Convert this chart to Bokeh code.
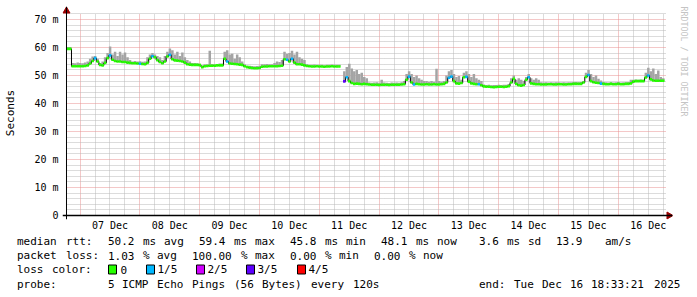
import re
import math
from datetime import datetime, timedelta
from bokeh.plotting import figure
from bokeh.models import Range1d, FixedTicker, Title, ColumnDataSource, Span
from bokeh.embed import file_html
from bokeh.resources import INLINE
from bokeh.core.properties import value

# ---------------- data ----------------
start_time = datetime(2025, 12, 6, 18, 33, 21)
end_time = datetime(2025, 12, 16, 18, 33, 21)
first_midnight = datetime(2025, 12, 7)

day_labels = ["07 Dec", "08 Dec", "09 Dec", "10 Dec", "11 Dec",
              "12 Dec", "13 Dec", "14 Dec", "15 Dec", "16 Dec"]
y_ticks = [0, 10, 20, 30, 40, 50, 60, 70]
y_tick_labels = ["0", "10 m", "20 m", "30 m", "40 m", "50 m", "60 m", "70 m"]

# hourly median rtt (ms); None = no data
median_ms = [
    59.5, 59.5, 53.3, 53.3, 53.3, 53.3, 53.3, 53.4, 53.6, 54.3, 55.2, 56.2,
    55.0, 53.8, 53.6, 54.5, 56.2, 57.2, 55.6, 55.2, 55.0, 55.0, 54.8, 54.8,
    54.6, 54.5, 54.4, 54.4, 54.3, 54.2, 54.1, 54.0, 54.5, 56.0, 56.9, 56.5,
    55.5, 54.8, 54.4, 55.0, 56.8, 57.4, 55.8, 55.4, 55.3, 55.2, 55.0, 54.6,
    54.0, 53.9, 53.8, 53.8, 53.8, 53.7, 53.0, 53.3, 53.4, 53.5, 53.5, 53.5,
    53.6, 53.6, 53.6, 56.0, 55.0, 54.3, 54.2, 54.1, 54.0, 53.9, 53.8, 53.3,
    53.0, 52.8, 52.7, 52.6, 52.6, 52.7, 53.1, 53.2, 53.2, 53.3, 53.3, 53.3,
    53.3, 53.4, 53.5, 55.8, 55.6, 55.0, 56.0, 54.6, 54.0, 54.0, 53.9, 53.6,
    53.4, 53.3, 53.2, 53.2, 53.3, 53.2, 53.2, 53.1, 53.2, 53.2, 53.3, 53.2,
    53.2, 53.2, None, 47.9, 49.4, 48.0, 47.3, 47.0, 47.1, 47.0, 46.9, 47.0,
    46.9, 46.8, 46.7, 46.7, 46.7, 46.6, 46.7, 46.7, 46.7, 46.6, 46.7, 46.7,
    46.7, 46.7, 46.8, 46.9, 48.5, 49.6, 47.5, 46.8, 47.0, 46.9, 46.8, 46.8,
    46.9, 46.8, 46.8, 46.9, 46.8, 46.8, 46.9, 47.0, 47.5, 49.2, 49.6, 48.0,
    47.2, 47.1, 47.3, 49.4, 49.5, 47.8, 47.2, 47.0, 46.9, 46.9, 46.5, 46.1,
    46.0, 46.0, 45.9, 45.8, 45.9, 46.0, 46.0, 45.9, 46.0, 46.2, 47.5, 48.8,
    47.0, 46.5, 46.4, 46.6, 48.5, 49.4, 47.2, 47.0, 46.9, 46.9, 46.8, 46.8,
    46.8, 46.9, 46.9, 46.8, 46.8, 46.9, 46.9, 46.8, 46.8, 46.9, 46.9, 47.0,
    47.0, 47.0, 47.0, 47.5, 49.5, 50.2, 48.0, 47.6, 47.4, 47.3, 47.1, 47.0,
    46.9, 46.9, 47.0, 46.9, 46.9, 47.0, 46.9, 46.9, 47.0, 47.0, 47.2, 47.8,
    48.0, 48.0, 48.0, 48.0, 49.3, 50.0, 48.6, 48.2, 48.1, 48.1, 48.1, 48.1,
]

# hourly top of the "smoke" (slowest ping, ms)
smoke_max_ms = [
    60.2, 60.2, 54.5, 54.4, 54.6, 54.5, 54.4, 54.6, 55.0, 56.0, 56.8, 57.0,
    56.0, 54.5, 55.0, 56.5, 58.0, 60.4, 57.5, 58.5, 57.0, 58.5, 57.5, 58.2,
    56.5, 55.5, 55.0, 55.2, 55.0, 55.1, 54.9, 55.0, 56.5, 57.5, 58.0, 57.5,
    57.0, 56.5, 55.5, 57.0, 58.5, 59.6, 59.0, 57.5, 58.5, 57.0, 58.2, 56.5,
    55.5, 55.0, 54.5, 54.5, 54.4, 54.2, 53.6, 54.0, 54.0, 58.8, 54.1, 54.0,
    54.0, 54.3, 54.3, 58.5, 59.0, 57.5, 57.8, 56.0, 57.5, 56.5, 55.0, 54.0,
    53.5, 53.5, 53.4, 53.3, 53.4, 53.5, 54.0, 54.0, 54.1, 54.0, 54.0, 54.5,
    55.0, 54.8, 55.5, 58.5, 57.8, 58.0, 58.8, 57.5, 58.5, 56.5, 56.0, 55.5,
    54.0, 53.8, 53.8, 53.9, 53.8, 53.8, 53.8, 53.7, 53.8, 53.8, 53.9, 53.8,
    53.8, 53.8, None, 51.5, 53.0, 54.2, 52.5, 51.5, 52.0, 50.5, 51.0, 49.5,
    49.0, 47.5, 47.4, 47.5, 47.6, 47.4, 48.5, 47.5, 47.4, 47.3, 47.5, 47.4,
    47.5, 47.4, 47.6, 48.0, 50.5, 51.5, 50.5, 49.5, 50.0, 49.0, 48.5, 48.0,
    48.0, 47.8, 48.0, 47.8, 52.4, 48.0, 47.8, 48.0, 50.0, 51.5, 52.0, 50.5,
    49.5, 49.8, 48.5, 51.0, 51.5, 50.5, 49.5, 50.5, 49.0, 48.5, 48.0, 46.8,
    46.6, 46.7, 46.5, 46.6, 46.6, 46.7, 46.6, 46.7, 46.7, 47.0, 49.0, 50.0,
    48.5, 49.0, 48.5, 48.0, 49.5, 50.5, 49.0, 48.5, 49.0, 48.5, 47.6, 47.5,
    47.6, 47.5, 47.6, 47.5, 47.6, 47.6, 47.5, 47.6, 47.5, 47.6, 47.6, 47.7,
    47.7, 47.6, 47.7, 48.0, 51.0, 52.0, 50.5, 49.5, 50.0, 48.8, 48.2, 47.7,
    47.6, 47.5, 47.6, 47.5, 47.6, 47.7, 47.5, 47.6, 47.6, 47.7, 48.5, 48.5,
    48.6, 48.5, 48.6, 48.5, 51.0, 52.8, 51.5, 52.5, 50.5, 51.8, 49.5, 49.0,
]

# hourly lost pings (out of 5)
loss_of5 = [
    0, 0, 0, 0, 0, 0, 0, 0, 0, 0, 0, 1,
    0, 0, 0, 0, 0, 1, 0, 0, 0, 0, 0, 0,
    0, 0, 0, 0, 0, 1, 0, 0, 0, 0, 1, 0,
    0, 0, 0, 0, 0, 1, 0, 0, 0, 0, 0, 0,
    0, 0, 0, 0, 0, 0, 0, 0, 0, 0, 0, 0,
    0, 0, 0, 0, 1, 0, 0, 0, 0, 0, 0, 0,
    0, 0, 0, 0, 0, 0, 0, 0, 0, 0, 0, 0,
    0, 0, 0, 0, 1, 0, 1, 0, 0, 0, 0, 0,
    0, 0, 0, 0, 0, 0, 0, 0, 0, 0, 0, 0,
    0, 0, 0, 3, 1, 0, 0, 0, 0, 0, 0, 0,
    0, 0, 0, 0, 0, 0, 0, 0, 0, 0, 0, 0,
    0, 0, 0, 0, 0, 1, 0, 1, 0, 0, 0, 0,
    0, 0, 0, 0, 0, 0, 0, 0, 0, 1, 1, 0,
    0, 0, 0, 0, 1, 0, 0, 0, 0, 1, 0, 0,
    0, 0, 0, 0, 0, 0, 0, 0, 0, 0, 0, 0,
    0, 0, 0, 0, 0, 1, 0, 0, 0, 0, 0, 0,
    0, 0, 0, 0, 0, 0, 0, 0, 0, 0, 0, 0,
    0, 0, 0, 0, 0, 1, 0, 0, 0, 0, 1, 0,
    0, 0, 0, 0, 0, 0, 0, 0, 0, 0, 0, 0,
    0, 0, 0, 0, 0, 1, 0, 0, 0, 0, 0, 0,
]

loss_colors = ["#26ff00", "#00b8ff", "#d000ff", "#5e00ff", "#ff0000"]
loss_labels = ["0", "1/5", "2/5", "3/5", "4/5"]

legend_line1 = "median rtt:  50.2 ms avg  59.4 ms max  45.8 ms min  48.1 ms now   3.6 ms sd  13.9   am/s"
legend_line2 = "packet loss: 1.03 % avg  100.00 % max  0.00 % min  0.00 % now"
legend_line3 = "loss color:"
legend_line4 = "probe:       5 ICMP Echo Pings (56 Bytes) every 120s"
legend_end = "end: Tue Dec 16 18:33:21 2025"
watermark = "RRDTOOL / TOBI OETIKER"

assert len(median_ms) == 240 and len(smoke_max_ms) == 240 and len(loss_of5) == 240

# ---------------- layout constants ----------------
W = 697
MAIN_H = 234            # graph part
LEG_H = 63              # text legend part below it
ORIGIN_X, ORIGIN_Y = 66, 215    # canvas position of (start, 0 ms)
FL, FR, FT = 62, 23, 6          # frame edges (frame reaches 4 px past the origin)
FB = MAIN_H - (ORIGIN_Y + 4)
PX_PER_H = 2.5
PX_PER_MS = 2.8
MONO = "DejaVu Sans Mono"

NAN = float("nan")
hours = [float(i) for i in range(len(median_ms))]
med = [NAN if v is None else v for v in median_ms]
hi = [NAN if v is None else v for v in smoke_max_ms]
seg_colors = [loss_colors[k] for k in loss_of5]

def h_of(dt):
    return round((dt - start_time).total_seconds() / 3600.0, 4)

total_h = h_of(end_time)
midnights = [h_of(first_midnight + timedelta(days=k)) for k in range(len(day_labels))]
noons = [h_of(first_midnight + timedelta(days=k, hours=12)) for k in range(len(day_labels))]
six_hourly = [h_of(first_midnight + timedelta(hours=6 * k)) for k in range(-1, 40)]
six_hourly = [v for v in six_hourly if 0 <= v <= total_h and v not in midnights]

def cx(X):   # canvas x -> hours
    return (X - ORIGIN_X) / PX_PER_H

def cy(Y):   # canvas y -> ms
    return (ORIGIN_Y - Y) / PX_PER_MS

p = figure(width=W, height=MAIN_H,
           x_range=Range1d(cx(FL), cx(W - FR)), y_range=Range1d(cy(MAIN_H - FB), cy(FT)),
           output_backend="svg", toolbar_location=None, title=None,
           min_border_left=FL, min_border_right=FR, min_border_top=FT, min_border_bottom=FB)
p.outline_line_color = None
p.background_fill_color = "white"
p.border_fill_color = "white"

# grids
MAJOR_GRID = "#e89090"
MINOR_GRID = "#b8b8b8"
p.xgrid.ticker = FixedTicker(ticks=midnights, minor_ticks=six_hourly)
p.ygrid.ticker = FixedTicker(ticks=y_ticks,
                             minor_ticks=[v for v in range(0, 73, 2) if v % 10])
for g in (p.xgrid[0], p.ygrid[0]):
    g.grid_line_color = MAJOR_GRID
    g.grid_line_dash = "1 1"
    g.grid_line_width = 1
    g.minor_grid_line_color = MINOR_GRID
    g.minor_grid_line_dash = "1 1"
    g.minor_grid_line_width = 1
try:
    p.xgrid[0].cross_bounds = (0, cy(13))
    p.ygrid[0].cross_bounds = (0, cx(668))
except Exception:
    pass

# smoke
src = ColumnDataSource(dict(left=hours, right=[h + 1 for h in hours], med=med, hi=hi,
                            color=seg_colors))
p.quad(left="left", right="right", bottom="med", top="hi", source=src,
       fill_color="#a4a4a4", line_color=None)
# median: black steps + loss-coloured level
p.step(x=hours, y=med, mode="after", line_color="black", line_width=1)
p.segment(x0="left", x1="right", y0="med", y1="med", source=src,
          line_color="color", line_width=2.6, line_cap="butt")

# axis lines through the origin (axes themselves sit on the frame edges)
p.add_layout(Span(location=0, dimension="width", line_color="black", line_width=1.5))
p.add_layout(Span(location=0, dimension="height", line_color="black", line_width=1))

xa = p.xaxis[0]
xa.ticker = FixedTicker(ticks=noons)
xa.major_label_overrides = {t: lab for t, lab in zip(noons, day_labels)}
xa.axis_line_color = None
xa.major_tick_out = 0
xa.major_tick_in = 0
xa.minor_tick_out = 0
xa.minor_tick_in = 0
xa.major_label_standoff = 0
xa.major_label_text_font = MONO
xa.major_label_text_font_size = "10px"
xa.major_label_text_color = "black"

ya = p.yaxis[0]
ya.ticker = FixedTicker(ticks=y_ticks)
ya.major_label_overrides = {t: lab for t, lab in zip(y_ticks, y_tick_labels)}
ya.axis_line_color = None
ya.major_tick_out = 0
ya.major_tick_in = 0
ya.minor_tick_out = 0
ya.minor_tick_in = 0
ya.major_label_standoff = 4
ya.major_label_text_font = MONO
ya.major_label_text_font_size = "10px"
ya.major_label_text_color = "black"
ya.axis_label = "Seconds"
ya.axis_label_text_font = MONO
ya.axis_label_text_font_size = "11px"
ya.axis_label_text_font_style = "normal"
ya.axis_label_text_color = "black"
ya.axis_label_standoff = 14

# axis arrows
ARROW = "#990000"
p.scatter(x=[cx(670.5)], y=[0], marker="triangle", size=7, angle=-math.pi / 2,
          fill_color=ARROW, line_color=ARROW)
p.scatter(x=[0], y=[cy(10.5)], marker="triangle", size=7,
          fill_color=ARROW, line_color=ARROW)

# watermark on the right
p.add_layout(Title(text=watermark, align="left", text_font=MONO, text_font_size="8.3px",
                   text_font_style="normal", text_color="#c4c4c4", standoff=13, offset=0),
             "right")

# ---------------- legend block (below the graph) ----------------
q = figure(width=W, height=LEG_H, x_range=Range1d(0, W), y_range=Range1d(MAIN_H + LEG_H, MAIN_H),
           output_backend="svg", toolbar_location=None, title=None,
           x_axis_type=None, y_axis_type=None,
           min_border=0, min_border_left=0, min_border_right=0,
           min_border_top=0, min_border_bottom=0)
q.outline_line_color = None
q.grid.visible = False
q.background_fill_color = "white"
q.border_fill_color = "white"

LEFT = 16.4
CHAR_W = 7.0
LINE_Y = [240.5, 255.0, 269.0, 283.5]

tx, ty, tt = [], [], []
def put(line, Y, col0=0):
    for m in re.finditer(r"\S+", line):
        tx.append(LEFT + (col0 + m.start()) * CHAR_W)
        ty.append(Y)
        tt.append(m.group())

put(legend_line1, LINE_Y[0])
put(legend_line2, LINE_Y[1])
put(legend_line3, LINE_Y[2])
put(legend_line4, LINE_Y[3])
put(legend_end, LINE_Y[3], col0=66)

box_left = [108, 146, 196, 246, 297]
lab_x = [120, 157, 207, 257, 308]
for lx, lab in zip(lab_x, loss_labels):
    tx.append(lx); ty.append(LINE_Y[2]); tt.append(lab)

q.text(x=tx, y=ty, text=tt, text_font=value(MONO), text_font_size=value("11px"),
       text_baseline="middle", text_align="left", text_color="black")
q.rect(x=[b + 4 for b in box_left], y=[LINE_Y[2]] * len(box_left), width=8, height=9,
       fill_color=loss_colors, line_color="black", line_width=1)

open("out.html", "w").write(file_html([p, q], INLINE))
